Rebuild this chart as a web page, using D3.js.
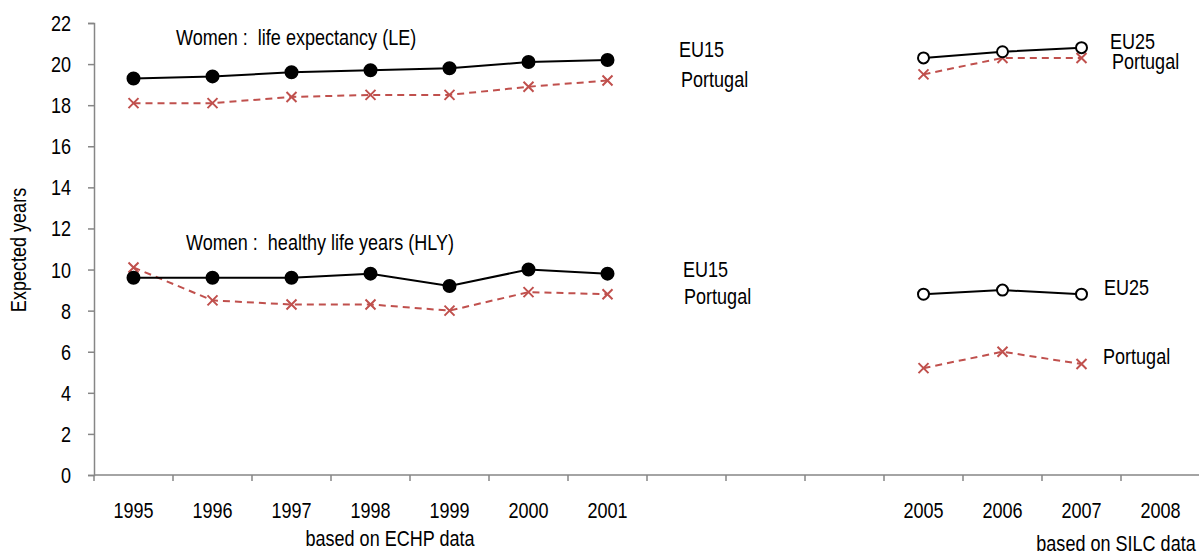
<!DOCTYPE html>
<html>
<head>
<meta charset="utf-8">
<script src="https://cdn.jsdelivr.net/npm/d3@7"></script>
<style>
body { margin: 0; background: #fff; }
text { font-family: "Liberation Sans", Arial, sans-serif; }
</style>
</head>
<body>
<div id="chart"></div>
<script>
// categories on the x axis (2002-2004 kept as empty slots)
var years = [1995, 1996, 1997, 1998, 1999, 2000, 2001, 2002, 2003, 2004, 2005, 2006, 2007, 2008];
var yearLabels = ["1995", "1996", "1997", "1998", "1999", "2000", "2001", "", "", "", "2005", "2006", "2007", "2008"];
var yTicks = [0, 2, 4, 6, 8, 10, 12, 14, 16, 18, 20, 22];

var echpYears = [1995, 1996, 1997, 1998, 1999, 2000, 2001];
var silcYears = [2005, 2006, 2007];

// life expectancy
var eu15LE = [19.3, 19.4, 19.6, 19.7, 19.8, 20.1, 20.2];
var ptEchpLE = [18.1, 18.1, 18.4, 18.5, 18.5, 18.9, 19.2];
var eu25LE = [20.3, 20.6, 20.8];
var ptSilcLE = [19.5, 20.3, 20.3];

// healthy life years
var eu15HLY = [9.6, 9.6, 9.6, 9.8, 9.2, 10.0, 9.8];
var ptEchpHLY = [10.1, 8.5, 8.3, 8.3, 8.0, 8.9, 8.8];
var eu25HLY = [8.8, 9.0, 8.8];
var ptSilcHLY = [5.2, 6.0, 5.4];

var width = 1199, height = 554;
var svg = d3.select("#chart").append("svg")
    .attr("width", width)
    .attr("height", height);

var x = d3.scaleBand().domain(years).range([94, 1200]);
var y = d3.scaleLinear().domain([0, 22]).range([475, 23]);
var axisColor = "#868686";

// narrow-looking text: taller font squeezed horizontally
function label(tx, ty, s, anchor, rot) {
    return svg.append("text")
        .attr("transform", "translate(" + tx + "," + ty + ")" + (rot ? " rotate(" + rot + ")" : "") + " scale(0.82,1)")
        .attr("font-size", 22)
        .attr("text-anchor", anchor || "start")
        .attr("xml:space", "preserve")
        .text(s);
}

// y axis
var yAxis = svg.append("g")
    .attr("transform", "translate(94,0)")
    .call(d3.axisLeft(y).tickValues(yTicks).tickSize(6).tickFormat(""));
yAxis.select(".domain").attr("stroke", axisColor).attr("stroke-width", 1.5);
yAxis.selectAll(".tick line").attr("stroke", axisColor).attr("stroke-width", 1.5);
yTicks.forEach(function (t) {
    label(71, y(t) + 8, String(t), "end");
});

// x axis: ticks at band edges
var xg = svg.append("g").attr("transform", "translate(0," + y(0) + ")");
xg.append("line")
    .attr("x1", 94).attr("x2", 1200)
    .attr("stroke", axisColor).attr("stroke-width", 1.5);
xg.selectAll(".xtick").data(years).enter().append("line")
    .attr("x1", function (d) { return x(d); })
    .attr("x2", function (d) { return x(d); })
    .attr("y1", 0).attr("y2", 6)
    .attr("stroke", axisColor).attr("stroke-width", 1.5);
years.forEach(function (d, i) {
    label(x(d) + x.bandwidth() / 2, 518, yearLabels[i], "middle");
});

function drawSeries(xs, vals, kind) {
    var pts = xs.map(function (d, i) { return [x(d) + x.bandwidth() / 2, y(vals[i])]; });
    var g = svg.append("g");
    var red = "#C0504D";
    g.append("path")
        .attr("d", d3.line()(pts))
        .attr("fill", "none")
        .attr("stroke", kind == "cross" ? red : "#000")
        .attr("stroke-width", 2)
        .attr("stroke-dasharray", kind == "cross" ? "7,5" : null);
    if (kind == "cross") {
        g.selectAll("path.m").data(pts).enter().append("path")
            .attr("d", function (p) {
                return "M" + (p[0] - 5) + "," + (p[1] - 5) + "L" + (p[0] + 5) + "," + (p[1] + 5) +
                    "M" + (p[0] - 5) + "," + (p[1] + 5) + "L" + (p[0] + 5) + "," + (p[1] - 5);
            })
            .attr("stroke", red).attr("stroke-width", 2);
    } else {
        g.selectAll("circle").data(pts).enter().append("circle")
            .attr("cx", function (p) { return p[0]; })
            .attr("cy", function (p) { return p[1]; })
            .attr("r", kind == "open" ? 5.5 : 6)
            .attr("fill", kind == "open" ? "#fff" : "#000")
            .attr("stroke", "#000")
            .attr("stroke-width", 2);
    }
}

drawSeries(echpYears, ptEchpLE, "cross");
drawSeries(echpYears, eu15LE, "filled");
drawSeries(silcYears, ptSilcLE, "cross");
drawSeries(silcYears, eu25LE, "open");
drawSeries(echpYears, ptEchpHLY, "cross");
drawSeries(echpYears, eu15HLY, "filled");
drawSeries(silcYears, ptSilcHLY, "cross");
drawSeries(silcYears, eu25HLY, "open");

// annotations
label(176, 45, "Women :  life expectancy (LE)");
label(186, 250, "Women :  healthy life years (HLY)");
label(679, 57, "EU15");
label(681, 87, "Portugal");
label(683, 277, "EU15");
label(684, 304, "Portugal");
label(1110, 49, "EU25");
label(1112, 69, "Portugal");
label(1104, 295, "EU25");
label(1103, 364, "Portugal");
label(390, 546, "based on ECHP data", "middle");
label(1116, 551, "based on SILC data", "middle");

label(26, 250, "Expected years", "middle", -90);
</script>
</body>
</html>
